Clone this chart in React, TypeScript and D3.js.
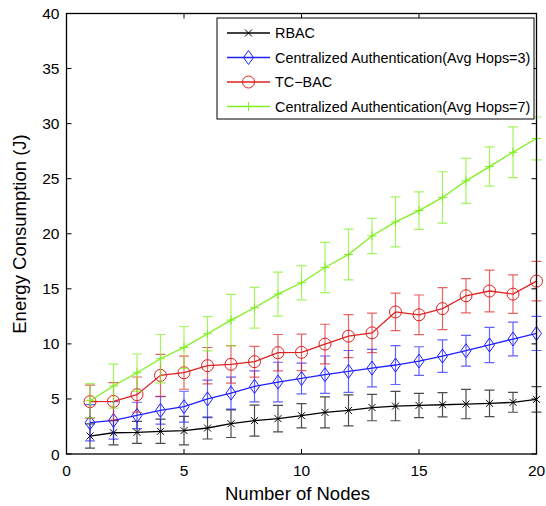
import React from "react";
import * as d3 from "d3";

const nodes = [1, 2, 3, 4, 5, 6, 7, 8, 9, 10, 11, 12, 13, 14, 15, 16, 17, 18, 19, 20];

const rbac = [1.63, 1.93, 1.97, 2.06, 2.12, 2.36, 2.75, 3.03, 3.21, 3.48, 3.78, 3.96, 4.22, 4.35, 4.41, 4.47, 4.53, 4.6, 4.69, 4.96];
const rbacErr = [1.1, 1.1, 1.0, 1.1, 1.3, 1.0, 1.25, 1.4, 1.2, 1.1, 1.4, 1.4, 1.2, 1.33, 1.1, 1.1, 1.33, 1.2, 0.9, 1.15];

const ca3 = [2.84, 3.05, 3.5, 3.96, 4.3, 5.0, 5.53, 6.14, 6.53, 6.86, 7.2, 7.5, 7.8, 8.08, 8.44, 8.89, 9.38, 9.9, 10.44, 10.95];
const ca3Err = [1.65, 1.7, 1.2, 1.25, 1.4, 1.7, 1.45, 1.4, 1.8, 1.4, 1.7, 1.9, 1.7, 1.77, 1.3, 1.47, 1.4, 1.6, 1.53, 1.55];

const tcbac = [4.75, 4.78, 5.39, 7.14, 7.38, 8.02, 8.14, 8.38, 9.2, 9.23, 9.98, 10.7, 11.0, 12.9, 12.64, 13.2, 14.37, 14.8, 14.52, 15.7];
const tcbacErr = [1.5, 1.7, 1.6, 1.9, 1.5, 1.65, 1.7, 1.4, 1.65, 1.65, 1.8, 1.95, 1.8, 1.7, 1.8, 1.9, 1.55, 1.9, 1.75, 1.8];

const ca7 = [4.84, 6.17, 7.38, 8.65, 9.68, 10.92, 12.16, 13.28, 14.52, 15.55, 16.94, 18.12, 19.8, 21.08, 22.1, 23.3, 24.8, 26.1, 27.4, 28.65];
const ca7Err = [1.55, 2.0, 1.7, 2.2, 1.9, 1.55, 2.33, 1.85, 2.0, 1.55, 2.28, 2.3, 1.6, 2.27, 1.7, 2.33, 2.05, 1.78, 2.3, 1.95];

const xTicks = [0, 5, 10, 15, 20];
const yTicks = [0, 5, 10, 15, 20, 25, 30, 35, 40];

const seriesNames = [
  "RBAC",
  "Centralized Authentication(Avg Hops=3)",
  "TC\u2212BAC",
  "Centralized Authentication(Avg Hops=7)",
];

type Marker = "x" | "diamond" | "circle" | "plus";

const series = [
  { name: seriesNames[0], values: rbac, err: rbacErr, color: "#000000", marker: "x" as Marker },
  { name: seriesNames[1], values: ca3, err: ca3Err, color: "#1f1fff", marker: "diamond" as Marker },
  { name: seriesNames[2], values: tcbac, err: tcbacErr, color: "#dd2222", marker: "circle" as Marker },
  { name: seriesNames[3], values: ca7, err: ca7Err, color: "#7fef1f", marker: "plus" as Marker },
];

const W = 546;
const H = 506;
const L = 66.5;
const R = 536.5;
const T = 13.5;
const B = 454;

const font = "Liberation Sans, Arial, Helvetica, sans-serif";

function MarkerShape({ type, x, y, color }: { type: Marker; x: number; y: number; color: string }) {
  if (type === "x") {
    const s = 3.5;
    return (
      <path d={`M${x - s},${y - s}L${x + s},${y + s}M${x - s},${y + s}L${x + s},${y - s}`} stroke={color} strokeWidth={1} fill="none" />
    );
  }
  if (type === "plus") {
    const s = 4.5;
    return <path d={`M${x - s},${y}L${x + s},${y}M${x},${y - s}L${x},${y + s}`} stroke={color} strokeWidth={1} fill="none" />;
  }
  if (type === "diamond") {
    const w = 5, h = 7;
    return <path d={`M${x},${y - h}L${x + w},${y}L${x},${y + h}L${x - w},${y}Z`} stroke={color} strokeWidth={1} fill="none" />;
  }
  return <circle cx={x} cy={y} r={6} stroke={color} strokeWidth={1} fill="none" />;
}

export default function App() {
  const x = d3.scaleLinear().domain([0, 20]).range([L, R]);
  const y = d3.scaleLinear().domain([0, 40]).range([B, T]);
  const line = d3
    .line<number>()
    .x((_, i) => x(nodes[i]))
    .y((d) => y(d));

  const cap = 5;
  const tickLen = 5;

  return (
    <svg width={W} height={H} style={{ display: "block", position: "absolute", left: 0, top: 0 }} fontFamily={font}>
      <rect x={0} y={0} width={W} height={H} fill="#fff" />
      {series.map((s) => (
        <g key={s.name}>
          {s.values.map((v, i) => {
            const cx = x(nodes[i]);
            const y1 = y(v + s.err[i]);
            const y2 = y(v - s.err[i]);
            return (
              <path
                key={i}
                d={`M${cx},${y1}L${cx},${y2}M${cx - cap},${y1}L${cx + cap},${y1}M${cx - cap},${y2}L${cx + cap},${y2}`}
                stroke={s.color}
                strokeOpacity={0.7}
                strokeWidth={1.2}
                fill="none"
              />
            );
          })}
          <path d={line(s.values) || ""} stroke={s.color} strokeWidth={1.3} fill="none" />
          {s.values.map((v, i) => (
            <MarkerShape key={i} type={s.marker} x={x(nodes[i])} y={y(v)} color={s.color} />
          ))}
        </g>
      ))}
      <rect x={L} y={T} width={R - L} height={B - T} fill="none" stroke="#000" strokeWidth={1.3} />
      {xTicks.map((t) => (
        <g key={"x" + t}>
          <line x1={x(t)} x2={x(t)} y1={B} y2={B - tickLen} stroke="#000" strokeWidth={1} />
          <line x1={x(t)} x2={x(t)} y1={T} y2={T + tickLen} stroke="#000" strokeWidth={1} />
          <text x={x(t)} y={475.5} textAnchor="middle" fontSize={15.5} fill="#000">
            {t}
          </text>
        </g>
      ))}
      {yTicks.map((t) => (
        <g key={"y" + t}>
          <line x1={L} x2={L + tickLen} y1={y(t)} y2={y(t)} stroke="#000" strokeWidth={1} />
          <line x1={R} x2={R - tickLen} y1={y(t)} y2={y(t)} stroke="#000" strokeWidth={1} />
          <text x={L - 7} y={y(t) + 5.5} textAnchor="end" fontSize={15.5} fill="#000">
            {t}
          </text>
        </g>
      ))}
      <text x={297.5} y={500} textAnchor="middle" fontSize={18.5} fill="#000">
        Number of Nodes
      </text>
      <text transform={`translate(26,234) rotate(-90)`} textAnchor="middle" fontSize={18.5} fill="#000">
        Energy Consumption (J)
      </text>
      <rect x={217} y={18} width={317} height={101} fill="#fff" stroke="#000" strokeWidth={1} />
      {series.map((s, i) => {
        const ly = 33 + i * 24.5;
        return (
          <g key={"lg" + i}>
            <line x1={227} x2={270} y1={ly} y2={ly} stroke={s.color} strokeWidth={1.3} />
            <MarkerShape type={s.marker} x={248.5} y={ly} color={s.color} />
            <text x={275} y={ly + 5.2} fontSize={14.4} fill="#000">
              {s.name}
            </text>
          </g>
        );
      })}
    </svg>
  );
}
